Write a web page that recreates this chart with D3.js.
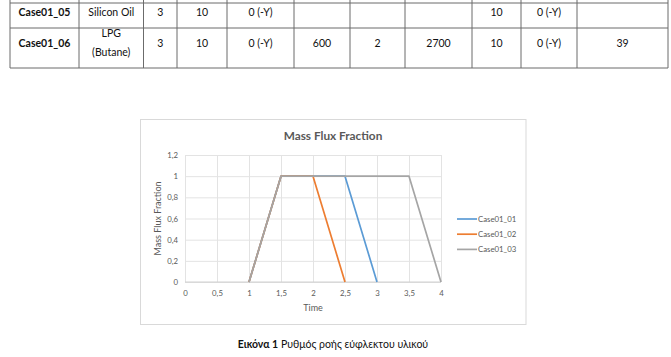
<!DOCTYPE html>
<html>
<head>
<meta charset="utf-8">
<script src="https://cdn.jsdelivr.net/npm/d3@7"></script>
<style>
  html, body { margin: 0; padding: 0; background: #fff; }
  svg { display: block; font-family: Lato, "Open Sans", sans-serif; }
</style>
</head>
<body>
<div id="page"></div>
<script>
// table rows shown above the chart
const tableRows = [
  ['Case01_05', ['Silicon Oil'], '3', '10', '0 (-Y)', '', '', '', '10', '0 (-Y)', ''],
  ['Case01_06', ['LPG', '(Butane)'], '3', '10', '0 (-Y)', '600', '2', '2700', '10', '0 (-Y)', '39']
];

// chart data
const seriesNames = ['Case01_01', 'Case01_02', 'Case01_03'];
const timeCase01 = [1, 1.5, 2.5, 3];
const fluxCase01 = [0, 1, 1, 0];
const timeCase02 = [1, 1.5, 2, 2.5];
const fluxCase02 = [0, 1, 1, 0];
const timeCase03 = [1, 1.5, 3.5, 4];
const fluxCase03 = [0, 1, 1, 0];
const xTicks = [0, 0.5, 1, 1.5, 2, 2.5, 3, 3.5, 4];
const yTicks = [0, 0.2, 0.4, 0.6, 0.8, 1, 1.2];

const chartTitle = 'Mass Flux Fraction';
const xTitle = 'Time';
const yTitle = 'Mass Flux Fraction';
const captionBold = 'Εικόνα 1';
const captionText = ' Ρυθμός ροής εύφλεκτου υλικού';

const W = 671, H = 357;
const svg = d3.select('#page').append('svg').attr('width', W).attr('height', H);

// ---- table ----
const colEdges = [10, 79, 143.5, 177, 227, 294, 350, 405, 472, 521, 577, 668];
const rowEdges = [3, 28, 68];
const tbl = svg.append('g');

colEdges.forEach(x => {
  tbl.append('line').attr('x1', x).attr('x2', x).attr('y1', 0).attr('y2', rowEdges[2])
    .attr('stroke', '#6b6b6b').attr('stroke-width', 1);
});
rowEdges.forEach(y => {
  tbl.append('line').attr('x1', colEdges[0]).attr('x2', colEdges[colEdges.length - 1]).attr('y1', y).attr('y2', y)
    .attr('stroke', '#6b6b6b').attr('stroke-width', 1);
});

const rowTextY = [15.5, 47];
tableRows.forEach((row, r) => {
  row.forEach((cell, c) => {
    const cx = (colEdges[c] + colEdges[c + 1]) / 2;
    const lines = Array.isArray(cell) ? cell : [cell];
    lines.forEach((txt, k) => {
      const y = lines.length > 1 ? rowTextY[r] - 10 + k * 19 : rowTextY[r];
      tbl.append('text').attr('x', cx).attr('y', y).attr('text-anchor', 'middle')
        .style('font-size', '10.5px').style('fill', '#111')
        .style('font-weight', c === 0 ? 700 : 400)
        .text(txt);
    });
  });
});

// ---- chart ----
svg.append('rect').attr('x', 140.5).attr('y', 119.5).attr('width', 385.5).attr('height', 205)
  .attr('fill', '#fff').attr('stroke', '#d9d9d9');

const x = d3.scaleLinear().domain([0, 4]).range([185, 441]);
const y = d3.scaleLinear().domain([0, 1.2]).range([282, 155]);
const grey = '#595959';

svg.append('g').attr('transform', `translate(0,${y(0)})`)
  .call(d3.axisBottom(x).tickValues(xTicks).tickSize(-(y(0) - y(1.2))).tickPadding(8)
    .tickFormat(d => String(d).replace('.', ',')))
  .call(g => g.select('.domain').remove())
  .call(g => g.selectAll('line').attr('stroke', '#e3e3e3'))
  .call(g => g.selectAll('text').style('font-size', '7.8px').style('fill', grey).style('font-family', 'Lato, sans-serif'));

svg.append('g').attr('transform', `translate(${x(0)},0)`)
  .call(d3.axisLeft(y).tickValues(yTicks).tickSize(-(x(4) - x(0))).tickPadding(7)
    .tickFormat(d => d3.format('.1~f')(d).replace('.', ',')))
  .call(g => g.select('.domain').remove())
  .call(g => g.selectAll('line').attr('stroke', '#e3e3e3'))
  .call(g => g.selectAll('text').style('font-size', '7.8px').style('fill', grey).style('font-family', 'Lato, sans-serif'));

// axis line at y = 0
svg.append('line').attr('x1', x(0)).attr('x2', x(4)).attr('y1', y(0)).attr('y2', y(0)).attr('stroke', '#d0d0d0');

const colors = d3.scaleOrdinal().domain(seriesNames).range(['#5b9bd5', '#ed7d31', '#a5a5a5']);
const series = [
  { name: seriesNames[0], t: timeCase01, v: fluxCase01 },
  { name: seriesNames[1], t: timeCase02, v: fluxCase02 },
  { name: seriesNames[2], t: timeCase03, v: fluxCase03 }
];
const line = d3.line().x(d => x(d[0])).y(d => y(d[1]));
svg.append('g').selectAll('path').data(series).join('path')
  .attr('d', s => line(d3.zip(s.t, s.v)))
  .attr('fill', 'none').attr('stroke', s => colors(s.name)).attr('stroke-width', 1.7)
  .attr('stroke-linejoin', 'round');

svg.append('text').attr('x', 333).attr('y', 139.5).attr('text-anchor', 'middle')
  .style('font-size', '11.8px').style('font-weight', 700).style('fill', grey).text(chartTitle);

svg.append('text').attr('x', x(2)).attr('y', 310.5).attr('text-anchor', 'middle')
  .style('font-size', '9px').style('fill', grey).text(xTitle);

svg.append('text').attr('transform', `translate(161,${(y(0) + y(1.2)) / 2}) rotate(-90)`)
  .attr('text-anchor', 'middle').style('font-size', '9px').style('fill', grey).text(yTitle);

const legend = svg.append('g');
seriesNames.forEach((n, i) => {
  const ly = 219 + i * 15.2;
  legend.append('line').attr('x1', 457).attr('x2', 477).attr('y1', ly).attr('y2', ly)
    .attr('stroke', colors(n)).attr('stroke-width', 1.7);
  legend.append('text').attr('x', 478).attr('y', ly + 2.8)
    .style('font-size', '7.8px').style('fill', grey).text(n);
});

// ---- caption ----
const cap = svg.append('text').attr('x', 333).attr('y', 347.5).attr('text-anchor', 'middle')
  .style('font-size', '10.5px').style('fill', '#111');
cap.append('tspan').style('font-weight', 700).text(captionBold);
cap.append('tspan').text(captionText);
</script>
</body>
</html>
